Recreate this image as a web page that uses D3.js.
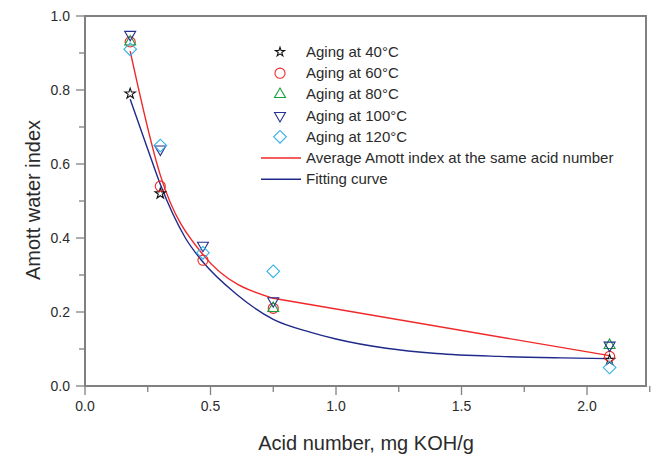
<!DOCTYPE html>
<html>
<head>
<meta charset="utf-8">
<script src="https://cdn.jsdelivr.net/npm/d3@7"></script>
<style>
  body { margin: 0; background: #fff; }
  text { font-family: "Liberation Sans", Arial, sans-serif; }
</style>
</head>
<body>
<script>
// data (null = no marker visible at that acid number)
var acidNumbers = [0.18, 0.30, 0.47, 0.75, 2.09];
var aging40  = [0.79, 0.52, null, null, 0.07];
var aging60  = [0.93, 0.54, 0.34, 0.21, 0.08];
var aging80  = [0.93, null, null, 0.21, 0.11];
var aging100 = [0.95, 0.64, 0.38, 0.23, 0.11];
var aging120 = [0.91, 0.65, 0.36, 0.31, 0.05];
var averageIndex = [0.905, 0.57, 0.355, 0.237, 0.082];

// fitting curve
var fitX = [0.18, 0.25, 0.30, 0.40, 0.47, 0.60, 0.75, 0.90, 1.00, 1.20, 1.40, 1.65, 1.90, 2.09];
var fitY = [0.775, 0.64, 0.545, 0.40, 0.335, 0.25, 0.18, 0.145, 0.127, 0.102, 0.088, 0.080, 0.076, 0.074];

var xTicks = [0, 0.5, 1.0, 1.5, 2.0];
var yTicks = [0, 0.2, 0.4, 0.6, 0.8, 1.0];

var legendLabels = ['Aging at 40°C', 'Aging at 60°C', 'Aging at 80°C', 'Aging at 100°C', 'Aging at 120°C',
    'Average Amott index at the same acid number', 'Fitting curve'];

// init
var width  = 651,
    height = 454,
    plot   = { left: 85, right: 646, top: 16, bottom: 386 };

var axisColor = '#808080',
    textColor = '#2b2b2b';

var xScale = d3.scaleLinear().domain([0, 2.235]).range([plot.left, plot.right]);
var yScale = d3.scaleLinear().domain([0, 1]).range([plot.bottom, plot.top]);

var svg = d3.select('body')
    .append('svg')
    .attr('width', width)
    .attr('height', height);

// marker definitions
var series = [
    { values: aging40,  color: '#111111', type: d3.symbolStar,     size: 34, rotate: 0 },
    { values: aging60,  color: '#f02828', type: d3.symbolCircle,   size: 80, rotate: 0 },
    { values: aging80,  color: '#17a03c', type: d3.symbolTriangle, size: 52, rotate: 0 },
    { values: aging100, color: '#25308f', type: d3.symbolTriangle, size: 52, rotate: 180 },
    { values: aging120, color: '#33b1ea', type: d3.symbolSquare,   size: 80, rotate: 45 }
];

function drawAxes() {
    // minor + major ticks, bottom
    var xMinor = d3.range(0, 2.26, 0.25);
    svg.append('g')
        .selectAll('line')
        .data(xMinor)
        .join('line')
        .attr('x1', d => xScale(d))
        .attr('x2', d => xScale(d))
        .attr('y1', plot.bottom)
        .attr('y2', d => plot.bottom + (Math.abs(d * 2 - Math.round(d * 2)) < 1e-6 ? 9 : 6))
        .attr('stroke', axisColor)
        .attr('stroke-width', 1.3);

    var yMinor = d3.range(0, 1.01, 0.1);
    svg.append('g')
        .selectAll('line')
        .data(yMinor)
        .join('line')
        .attr('y1', d => yScale(d))
        .attr('y2', d => yScale(d))
        .attr('x1', plot.left)
        .attr('x2', d => plot.left - (Math.abs(d * 5 - Math.round(d * 5)) < 1e-6 ? 9 : 6))
        .attr('stroke', axisColor)
        .attr('stroke-width', 1.3);

    // frame
    svg.append('rect')
        .attr('x', plot.left)
        .attr('y', plot.top)
        .attr('width', plot.right - plot.left)
        .attr('height', plot.bottom - plot.top)
        .attr('fill', 'none')
        .attr('stroke', axisColor)
        .attr('stroke-width', 2);

    // tick labels
    svg.append('g')
        .selectAll('text')
        .data(xTicks)
        .join('text')
        .attr('x', d => xScale(d))
        .attr('y', 411)
        .attr('text-anchor', 'middle')
        .attr('font-size', 14)
        .attr('fill', textColor)
        .text(d => d.toFixed(1));

    svg.append('g')
        .selectAll('text')
        .data(yTicks)
        .join('text')
        .attr('x', 70)
        .attr('y', d => yScale(d) + 5)
        .attr('text-anchor', 'end')
        .attr('font-size', 14)
        .attr('fill', textColor)
        .text(d => d.toFixed(1));

    // axis titles
    svg.append('text')
        .attr('x', 366)
        .attr('y', 450)
        .attr('text-anchor', 'middle')
        .attr('font-size', 20)
        .attr('fill', textColor)
        .text('Acid number, mg KOH/g');

    svg.append('text')
        .attr('transform', 'translate(40,200) rotate(-90)')
        .attr('text-anchor', 'middle')
        .attr('font-size', 20)
        .attr('fill', textColor)
        .text('Amott water index');
}

function drawLines() {
    // averaged line: smooth over the dense part, straight to the last point
    var avgPts = averageIndex.map((d, i) => [acidNumbers[i], d]);
    var smooth = d3.line()
        .x(d => xScale(d[0]))
        .y(d => yScale(d[1]))
        .curve(d3.curveMonotoneX);
    var straight = d3.line()
        .x(d => xScale(d[0]))
        .y(d => yScale(d[1]));

    svg.append('path')
        .attr('d', smooth(avgPts.slice(0, 4)) + straight(avgPts.slice(3)).replace('M', 'L'))
        .attr('fill', 'none')
        .attr('stroke', '#f02828')
        .attr('stroke-width', 1.4);

    var fitLine = d3.line()
        .x((d, i) => xScale(fitX[i]))
        .y(d => yScale(d))
        .curve(d3.curveMonotoneX);

    svg.append('path')
        .datum(fitY)
        .attr('d', fitLine)
        .attr('fill', 'none')
        .attr('stroke', '#1f2a8a')
        .attr('stroke-width', 1.4);
}

function drawMarkers() {
    series.forEach(function (s) {
        var pts = s.values.map((d, i) => [acidNumbers[i], d]).filter(d => d[1] !== null);
        svg.append('g')
            .selectAll('path')
            .data(pts)
            .join('path')
            .attr('transform', d => 'translate(' + xScale(d[0]) + ',' + yScale(d[1]) + ') rotate(' + s.rotate + ')')
            .attr('d', d3.symbol().type(s.type).size(s.size))
            .attr('fill', 'none')
            .attr('stroke', s.color)
            .attr('stroke-width', 1.1);
    });
}

function drawLegend() {
    var legend = svg.append('g');
    var rowY = d => 52 + d * 21.2;

    series.forEach(function (s, i) {
        legend.append('path')
            .attr('transform', 'translate(280,' + rowY(i) + ') rotate(' + s.rotate + ')')
            .attr('d', d3.symbol().type(s.type).size(s.type === d3.symbolStar ? 26 : s.size))
            .attr('fill', 'none')
            .attr('stroke', s.color)
            .attr('stroke-width', 1.1);
    });

    [['#f02828', 5], ['#1f2a8a', 6]].forEach(function (l) {
        legend.append('line')
            .attr('x1', 261)
            .attr('x2', 301)
            .attr('y1', rowY(l[1]))
            .attr('y2', rowY(l[1]))
            .attr('stroke', l[0])
            .attr('stroke-width', 1.4);
    });

    legend.selectAll('text')
        .data(legendLabels)
        .join('text')
        .attr('x', 306)
        .attr('y', (d, i) => rowY(i) + 5)
        .attr('font-size', 15)
        .attr('fill', textColor)
        .text(d => d);
}

drawAxes();
drawLines();
drawMarkers();
drawLegend();
</script>
</body>
</html>
